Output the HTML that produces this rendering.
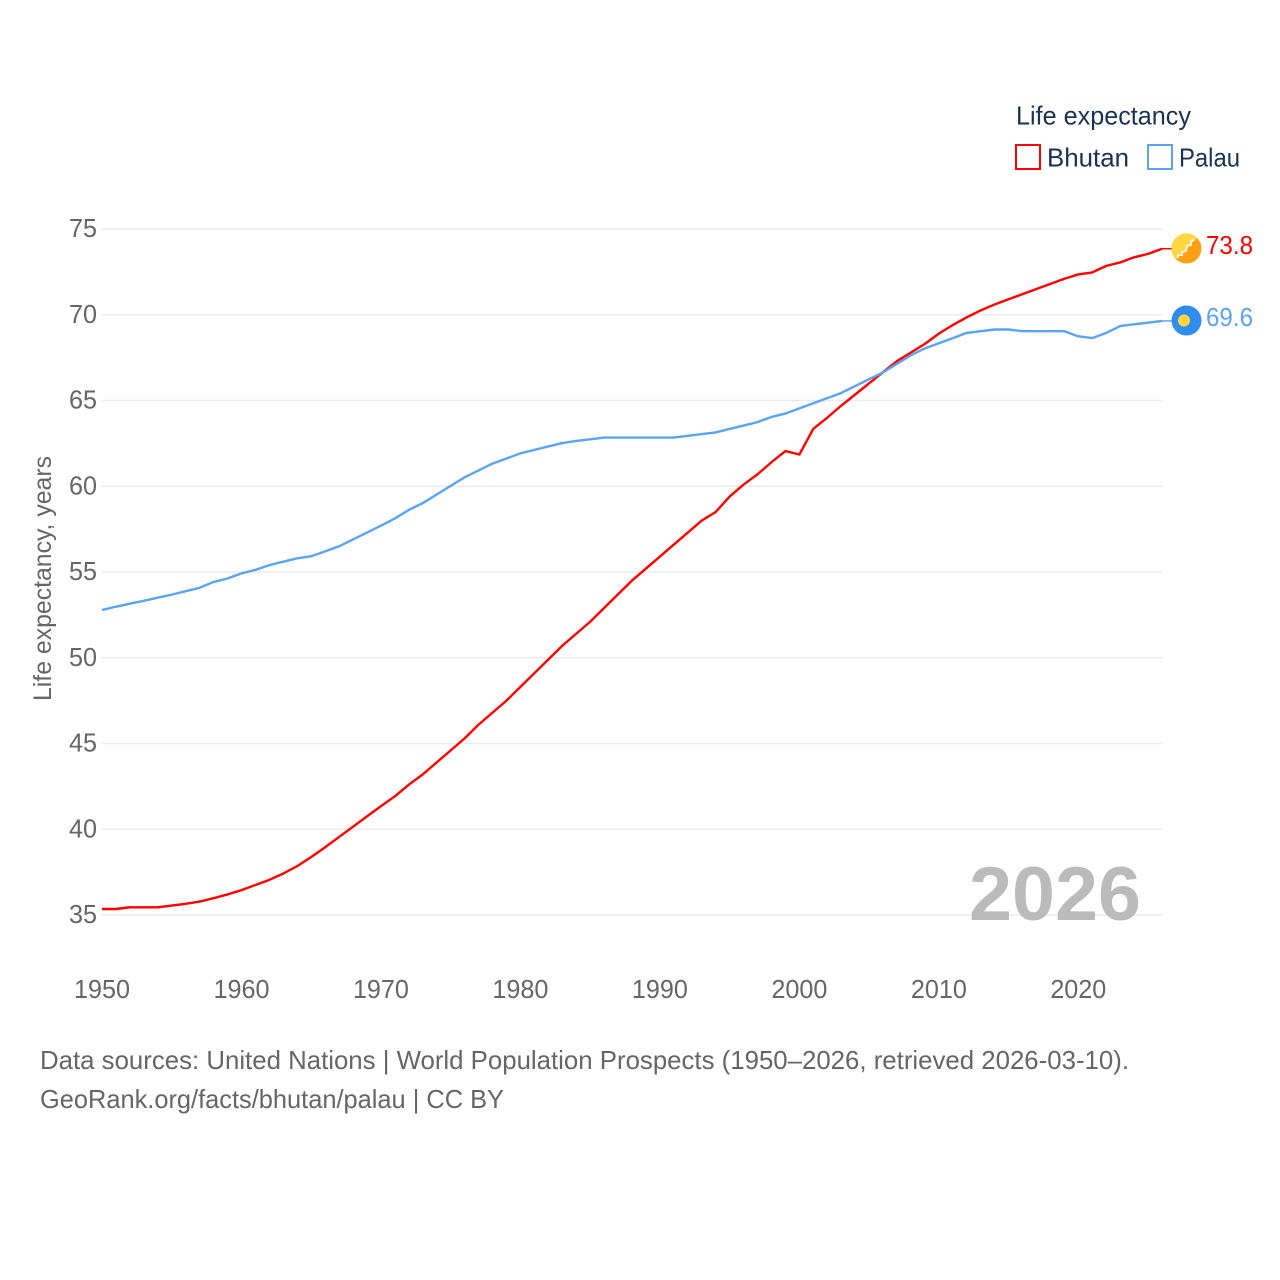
<!DOCTYPE html>
<html lang="en">
<head>
<meta charset="utf-8">
<title>Life expectancy: Bhutan and Palau</title>
<style>
html,body{margin:0;padding:0;background:#fff;width:1280px;height:1280px;overflow:hidden}
svg{display:block}
text{font-family:"Liberation Sans",Arial,sans-serif}
</style>
</head>
<body>
<svg id="chart" xmlns="http://www.w3.org/2000/svg" width="1280" height="1280" viewBox="0 0 1280 1280">
  <rect x="0" y="0" width="1280" height="1280" fill="#fff"/>
  <g id="grid"></g>
  <g id="yticks"></g>
  <g id="xticks"></g>
  <text transform="translate(51 701) rotate(-90)" font-size="25" fill="#666" textLength="245" lengthAdjust="spacingAndGlyphs">Life expectancy, years</text>
  <text x="969" y="920" font-size="76" font-weight="700" fill="#bbb" textLength="172" lengthAdjust="spacingAndGlyphs">2026</text>
  <g id="series"></g>

  <g>
    <text x="1016" y="124.5" font-size="26" fill="#1a3352" textLength="175" lengthAdjust="spacingAndGlyphs">Life expectancy</text>
    <g>
      <rect x="1016" y="145" width="24" height="24" fill="#fff" stroke="#ff0000" stroke-width="2"/>
      <text x="1047" y="166.5" font-size="26" fill="#1a3352" textLength="82" lengthAdjust="spacingAndGlyphs">Bhutan</text>
    </g>
    <g>
      <rect x="1148" y="145" width="24" height="24" fill="#fff" stroke="#5ba4f0" stroke-width="2"/>
      <text x="1179" y="166.5" font-size="26" fill="#1a3352" textLength="61" lengthAdjust="spacingAndGlyphs">Palau</text>
    </g>
  </g>

  <defs>
    <clipPath id="bt-clip"><circle cx="1186.5" cy="248.5" r="15"/></clipPath>
  </defs>
  <g clip-path="url(#bt-clip)">
    <rect x="1170" y="232" width="34" height="34" fill="#ff9f14"/>
    <path d="M1171 264L1202 233L1171 233Z" fill="#ffd83f"/>
    <path d="M1178 258L1178 255L1182 255L1182 252L1186 251L1187 246L1191 245L1191 241L1194 240" fill="none" stroke="#fff2dc" stroke-width="2"/>
  </g>
  <text id="bhutan-value" x="1206" y="254" font-size="26" fill="#ff0000" textLength="47" lengthAdjust="spacingAndGlyphs">73.8</text>

  <g>
    <circle cx="1186.5" cy="320.5" r="15" fill="#2f8cf2"/>
    <circle cx="1184" cy="320.5" r="6" fill="#ffd83f"/>
  </g>
  <text id="palau-value" x="1206" y="326" font-size="26" fill="#5ba4f0" textLength="47" lengthAdjust="spacingAndGlyphs">69.6</text>

  <text x="40" y="1069" font-size="26" fill="#666" textLength="1089" lengthAdjust="spacingAndGlyphs">Data sources: United Nations | World Population Prospects (1950–2026, retrieved 2026-03-10).</text>
  <text x="40" y="1108" font-size="26" fill="#666" textLength="464" lengthAdjust="spacingAndGlyphs">GeoRank.org/facts/bhutan/palau | CC BY</text>
</svg>
<script>
const startYear = 1950;
const endYear = 2026;
const yTickValues = [35, 40, 45, 50, 55, 60, 65, 70, 75];
const xTickValues = [1950, 1960, 1970, 1980, 1990, 2000, 2010, 2020];
const bhutanValues = [35.35,35.35,35.45,35.45,35.45,35.55,35.65,35.78,35.98,36.2,36.45,36.75,37.05,37.42,37.85,38.38,38.95,39.55,40.15,40.75,41.35,41.92,42.6,43.2,43.9,44.6,45.3,46.1,46.8,47.5,48.3,49.1,49.9,50.7,51.4,52.1,52.9,53.7,54.5,55.2,55.9,56.6,57.3,58,58.5,59.4,60.1,60.7,61.4,62.05,61.85,63.35,64,64.7,65.35,66,66.65,67.3,67.8,68.3,68.9,69.4,69.85,70.25,70.6,70.9,71.2,71.5,71.8,72.1,72.35,72.47,72.85,73.05,73.35,73.55,73.85];
const palauValues = [52.78,52.98,53.15,53.32,53.5,53.68,53.88,54.08,54.42,54.62,54.92,55.12,55.4,55.6,55.8,55.92,56.2,56.5,56.9,57.3,57.7,58.12,58.62,59.02,59.52,60.02,60.52,60.92,61.32,61.62,61.92,62.12,62.32,62.52,62.64,62.74,62.84,62.84,62.84,62.84,62.84,62.84,62.94,63.04,63.14,63.34,63.54,63.74,64.04,64.24,64.54,64.84,65.14,65.44,65.84,66.24,66.64,67.14,67.64,68.04,68.34,68.64,68.94,69.04,69.14,69.14,69.04,69.04,69.04,69.04,68.74,68.64,68.94,69.34,69.44,69.54,69.64];

const NS = 'http://www.w3.org/2000/svg';
function xScale(year){ return 102 + (year - startYear) * (1162 - 102) / (endYear - startYear); }
function yScale(v){ return 915 - (v - 35) * (915 - 229) / (75 - 35); }

const gridGroup = document.getElementById('grid');
const yGroup = document.getElementById('yticks');
const xGroup = document.getElementById('xticks');
const seriesGroup = document.getElementById('series');

yTickValues.forEach(function(v){
  const line = document.createElementNS(NS, 'line');
  
  
  line.setAttribute('x1', 102);
  line.setAttribute('x2', 1162);
  line.setAttribute('y1', yScale(v));
  line.setAttribute('y2', yScale(v));
  line.setAttribute('stroke', '#ececec');
  line.setAttribute('stroke-width', '1.6');
  gridGroup.appendChild(line);

  const label = document.createElementNS(NS, 'text');
  
  
  label.setAttribute('x', 69);
  label.setAttribute('y', yScale(v) + 8);
  label.setAttribute('font-size', '26');
  label.setAttribute('fill', '#666');
  label.setAttribute('textLength', '28');
  label.setAttribute('lengthAdjust', 'spacingAndGlyphs');
  label.textContent = String(v);
  yGroup.appendChild(label);
});

xTickValues.forEach(function(year){
  const label = document.createElementNS(NS, 'text');
  
  
  label.setAttribute('x', xScale(year) - 28);
  label.setAttribute('y', 998);
  label.setAttribute('font-size', '26');
  label.setAttribute('fill', '#666');
  label.setAttribute('textLength', '56');
  label.setAttribute('lengthAdjust', 'spacingAndGlyphs');
  label.textContent = String(year);
  xGroup.appendChild(label);
});

function pointsFor(values){
  return values.map(function(v, i){
    return xScale(startYear + i).toFixed(2) + ',' + yScale(v).toFixed(2);
  }).join(' ');
}

const bhutanLine = document.createElementNS(NS, 'polyline');


bhutanLine.setAttribute('points', pointsFor(bhutanValues));
bhutanLine.setAttribute('fill', 'none');
bhutanLine.setAttribute('stroke', '#ff0000');
bhutanLine.setAttribute('stroke-width', '2.4');
bhutanLine.setAttribute('stroke-linejoin', 'round');
seriesGroup.appendChild(bhutanLine);

const palauLine = document.createElementNS(NS, 'polyline');


palauLine.setAttribute('points', pointsFor(palauValues));
palauLine.setAttribute('fill', 'none');
palauLine.setAttribute('stroke', '#5ba4f0');
palauLine.setAttribute('stroke-width', '2.4');
palauLine.setAttribute('stroke-linejoin', 'round');
seriesGroup.appendChild(palauLine);

const bhutanConnector = document.createElementNS(NS, 'line');


bhutanConnector.setAttribute('x1', xScale(endYear));
bhutanConnector.setAttribute('x2', 1172);
bhutanConnector.setAttribute('y1', yScale(bhutanValues[bhutanValues.length - 1]));
bhutanConnector.setAttribute('y2', yScale(bhutanValues[bhutanValues.length - 1]));
bhutanConnector.setAttribute('stroke', '#ff0000');
bhutanConnector.setAttribute('stroke-width', '1.5');
seriesGroup.appendChild(bhutanConnector);

const palauConnector = document.createElementNS(NS, 'line');


palauConnector.setAttribute('x1', xScale(endYear));
palauConnector.setAttribute('x2', 1172);
palauConnector.setAttribute('y1', yScale(palauValues[palauValues.length - 1]));
palauConnector.setAttribute('y2', yScale(palauValues[palauValues.length - 1]));
palauConnector.setAttribute('stroke', '#5ba4f0');
palauConnector.setAttribute('stroke-width', '1.5');
seriesGroup.appendChild(palauConnector);
</script>
</body>
</html>
